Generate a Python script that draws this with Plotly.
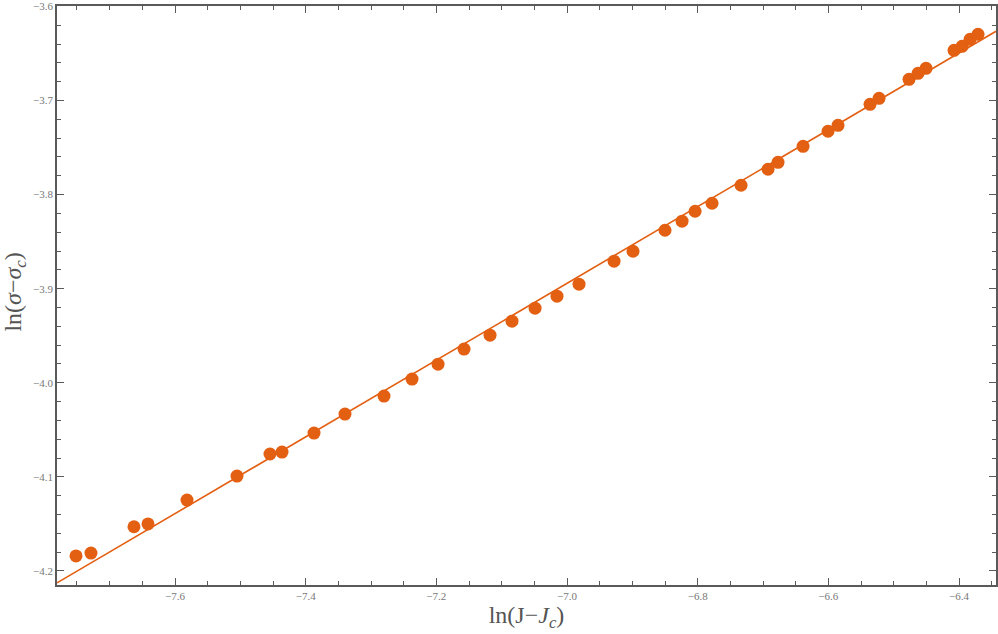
import plotly.graph_objects as go

# data points
ln_j = [-7.7515, -7.7286, -7.6628, -7.6413, -7.5816, -7.5051, -7.4546, -7.4362,
        -7.3872, -7.3398, -7.2801, -7.2372, -7.1974, -7.1576, -7.1178, -7.0842,
        -7.0489, -7.0153, -6.9816, -6.9280, -6.8990, -6.8500, -6.8239, -6.8040,
        -6.7780, -6.7336, -6.6923, -6.6770, -6.6387, -6.6005, -6.5852, -6.5362,
        -6.5224, -6.4765, -6.4627, -6.4505, -6.4076, -6.3953, -6.3831, -6.3709]
ln_sigma = [-4.184, -4.181, -4.153, -4.150, -4.1246, -4.0991, -4.0757, -4.0736,
            -4.0534, -4.0333, -4.0141, -3.9961, -3.9802, -3.9642, -3.9494, -3.9345,
            -3.9207, -3.9080, -3.8952, -3.8708, -3.8602, -3.8379, -3.8283, -3.8177,
            -3.8092, -3.7901, -3.7731, -3.7657, -3.7487, -3.7327, -3.7264, -3.7041,
            -3.6977, -3.6775, -3.6711, -3.6658, -3.6467, -3.6425, -3.6350, -3.6297]

# fitted line end points
fit_x = [-7.7806, -6.3434]
fit_y = [-4.2127, -3.6265]

orange = "#E35F12"
frame = "#5a5a5a"
tick_font = dict(family="Liberation Serif", size=11, color="#777777")
title_font = dict(family="Liberation Serif", size=24, color="#555555")

fig = go.Figure()
fig.add_trace(go.Scatter(x=fit_x, y=fit_y, mode="lines",
                         line=dict(color=orange, width=1.6), hoverinfo="skip"))
fig.add_trace(go.Scatter(x=ln_j, y=ln_sigma, mode="markers",
                         marker=dict(color=orange, size=13, line=dict(width=0))))

axis_common = dict(showgrid=False, zeroline=False, showline=True, linecolor=frame,
                   linewidth=1.5, mirror="ticks", ticks="inside", tickcolor=frame,
                   ticklen=7, tickwidth=1, tickfont=tick_font, tickformat=".1f",
                   automargin=False, ticklabeloverflow="allow")

fig.update_xaxes(range=[-7.7806, -6.3434], dtick=0.2, tick0=-7.6,
                 minor=dict(ticks="inside", ticklen=4, dtick=0.05, tickcolor=frame),
                 title=dict(text="ln(J−<i>J</i><sub><i>c</i></sub>)",
                            font=title_font, standoff=2),
                 **axis_common)
fig.update_yaxes(range=[-4.2149, -3.5996], dtick=0.1, tick0=-3.6,
                 minor=dict(ticks="inside", ticklen=4, dtick=0.02, tickcolor=frame),
                 **axis_common)

# y title placed by hand, close to the left edge
fig.add_annotation(text="ln(<i>σ</i>−<i>σ</i><sub><i>c</i></sub>)",
                   xref="paper", yref="paper", x=0, y=0.505, xshift=-42,
                   xanchor="center", yanchor="middle", textangle=-90,
                   showarrow=False, font=title_font)

fig.update_layout(width=998, height=634, showlegend=False,
                  plot_bgcolor="white", paper_bgcolor="white",
                  margin=dict(l=57, r=2, t=6, b=49))

# drop the default body margin so the figure sits at the window corner
fig.write_html("out.html", config={"displayModeBar": False},
               post_script="document.body.style.margin='0';")
